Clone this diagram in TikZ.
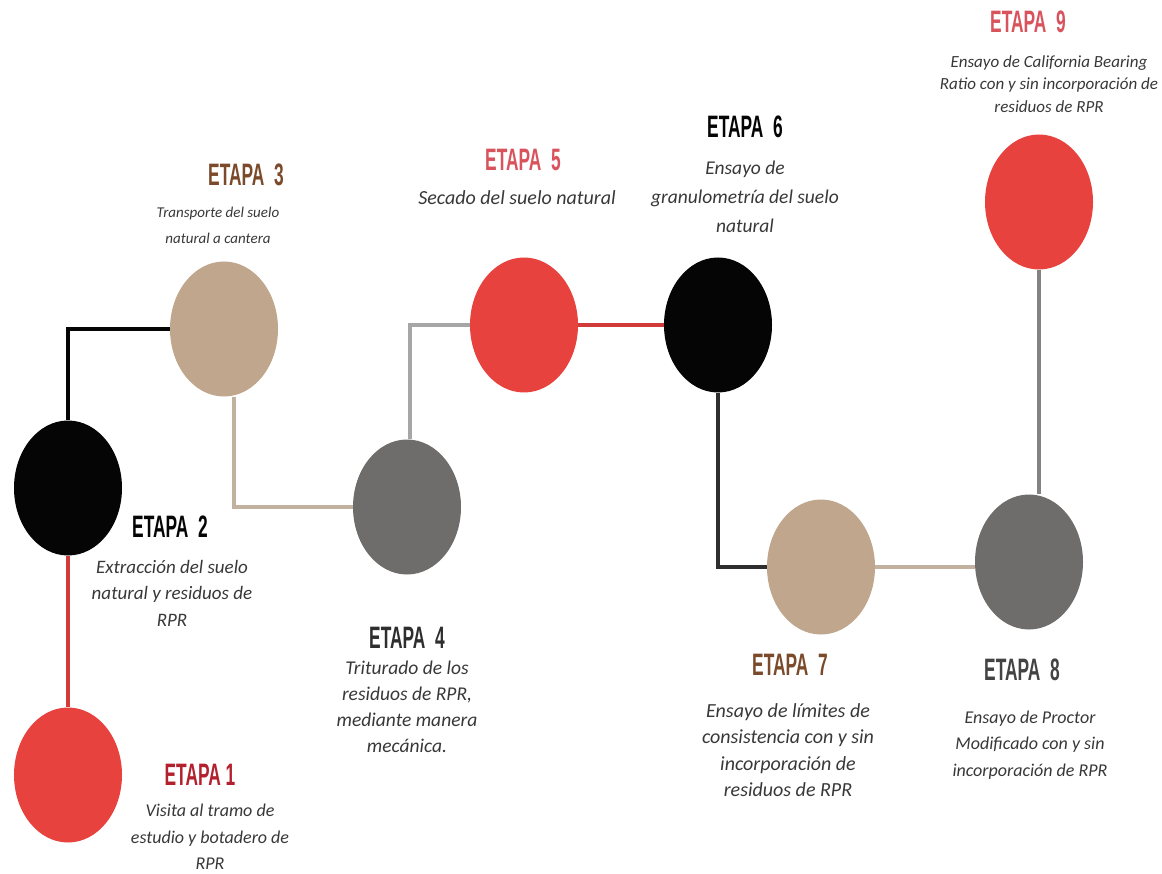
\documentclass[tikz,border=0pt]{standalone}
\usepackage{fontspec}
\setmainfont{Carlito}
\newfontfamily\titlefont[FakeStretch=0.56]{Liberation Sans}
\usetikzlibrary{shapes.geometric}

\definecolor{rojo}{HTML}{E8423F}
\definecolor{arena}{HTML}{BFA68C}
\definecolor{gris}{HTML}{6F6D6C}
\definecolor{negro}{HTML}{050505}
\definecolor{rojooscuro}{HTML}{B3202E}
\definecolor{rosa}{HTML}{D9535D}
\definecolor{cafe}{HTML}{7B4A2A}
\definecolor{grisoscuro}{HTML}{2E2E2E}
\definecolor{gristexto}{HTML}{383838}
\definecolor{lineagris}{HTML}{A6A6A6}
\definecolor{lineaarena}{HTML}{C2B19E}

\tikzset{
  etapa/.style={ellipse, minimum width=108pt, minimum height=135pt, inner sep=0pt},
  titulo/.style={font=\titlefont\bfseries\fontsize{31}{31}\selectfont},
  texto/.style={font=\itshape\fontsize{19}{26.5}\selectfont, text=gristexto},
  linea/.style={line width=3.5pt}
}

\begin{document}
\begin{tikzpicture}[x=1pt,y=-1pt,every node/.style={align=center}]
        \useasboundingbox (0,0) rectangle (1162,874);

        % circulos de las etapas
        \foreach \n/\x/\y/\c in {1/68/775/rojo, 2/68/488/negro, 3/224/329/arena,
                4/407/507/gris, 5/524/325/rojo, 6/718/325/negro,
                7/821/567/arena, 8/1029/562/gris, 9/1039/202/rojo}
            {\node[etapa, fill=\c] (c\n) at (\x,\y) {};}

        % conexiones
        \draw[linea, rojo!90!black] (c1.north) -- (c2.south);
        \draw[linea, negro] (c2.north) |- (c3.west);
        \draw[linea, lineaarena] ([xshift=10pt]c3.south) |- (c4.west);
        \draw[linea, lineagris] ([xshift=3pt]c4.north) |- (c5.west);
        \draw[linea, rojo!90!black] (c5.east) -- (c6.west);
        \draw[linea, grisoscuro] (c6.south) |- (c7.west);
        \draw[linea, lineaarena] (c7.east) -- (c7.east -| c8.west);
        \draw[linea, gris!85] (c9.south) -- (c9.south |- c8.north);

        % titulos
        \node[titulo, text=rojooscuro] (t1) at (200,775) {ETAPA 1};
        \node[titulo, text=negro] (t2) at (170,527) {ETAPA\ \ 2};
        \node[titulo, text=cafe] (t3) at (246,175) {ETAPA\ \ 3};
        \node[titulo, text=grisoscuro] (t4) at (407,638) {ETAPA\ \ 4};
        \node[titulo, text=rosa] (t5) at (523,160) {ETAPA\ \ 5};
        \node[titulo, text=negro] (t6) at (745,127) {ETAPA\ \ 6};
        \node[titulo, text=cafe] (t7) at (790,665) {ETAPA\ \ 7};
        \node[titulo, text=grisoscuro!90] (t8) at (1022,670) {ETAPA\ \ 8};
        \node[titulo, text=rosa] (t9) at (1028,22) {ETAPA\ \ 9};

        % descripciones
        \node[texto, font=\itshape\fontsize{18}{26.5}\selectfont] (d1) at (210,837) {Visita al tramo de\\estudio y botadero de\\RPR};
        \node[texto] (d2) at (172,593) {Extracción del suelo\\natural y residuos de\\RPR};
        \node[texto, font=\itshape\fontsize{15}{26}\selectfont] (d3) at (218,225) {Transporte del suelo\\natural a cantera};
        \node[texto, font=\itshape\fontsize{19.5}{26}\selectfont] (d4) at (407,707) {Triturado de los\\residuos de RPR,\\mediante manera\\mecánica.};
        \node[texto, font=\itshape\fontsize{20}{26}\selectfont] (d5) at (517,198) {Secado del suelo natural};
        \node[texto, font=\itshape\fontsize{19.5}{29}\selectfont] (d6) at (745,197) {Ensayo de\\granulometría del suelo\\natural};
        \node[texto, font=\itshape\fontsize{20}{26.5}\selectfont] (d7) at (788,750) {Ensayo de límites de\\consistencia con y sin\\incorporación de\\residuos de RPR};
        \node[texto, font=\itshape\fontsize{18}{26.5}\selectfont] (d8) at (1030,745) {Ensayo de Proctor\\Modificado con y sin\\incorporación de RPR};
        \node[texto, font=\itshape\fontsize{17}{22.5}\selectfont] (d9) at (1049,84) {Ensayo de California Bearing\\Ratio con y sin incorporación de\\residuos de RPR};

\end{tikzpicture}
\end{document}
